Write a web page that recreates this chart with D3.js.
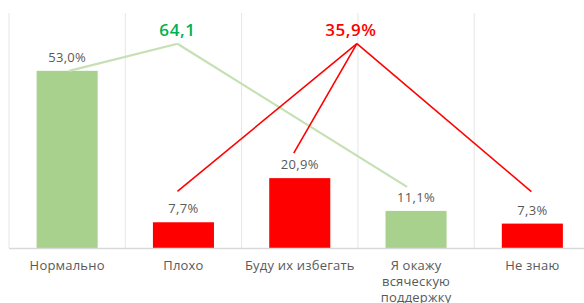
<!DOCTYPE html>
<html>
<head>
<meta charset="utf-8">
<script src="https://cdn.jsdelivr.net/npm/d3@7"></script>
<style>
  body { margin: 0; background: #fff; }
  svg { display: block; font-family: "Open Sans", "DejaVu Sans", sans-serif; }
</style>
</head>
<body>
<svg id="chart" width="584" height="303"></svg>
<script>
(function() {

  'use strict';

  // data
  var categories = ['Нормально', 'Плохо', 'Буду их избегать', 'Я окажу всяческую поддержку', 'Не знаю'];
  var values = [53.0, 7.7, 20.9, 11.1, 7.3];
  var groups = ['positive', 'negative', 'negative', 'positive', 'negative'];
  var sumLabels = { positive: '64,1', negative: '35,9%' };

  var colours = { positive: '#a9d18e', negative: '#ff0000' };
  var lineColours = { positive: '#c5e0b4', negative: '#ff0000' };
  var sumColours = { positive: '#00b050', negative: '#ff0000' };

  var svg = d3.select('#chart');
  var left = 9, baseline = 248, top = 14;

  var x = d3.scaleBand()
    .domain(categories)
    .range([left, left + 116.3 * categories.length])
    .paddingInner(0)
    .paddingOuter(0);

  var y = d3.scaleLinear().domain([0, 70]).range([baseline, top]);

  var fmt = function(v) { return v.toFixed(1).replace('.', ',') + '%'; };

  // vertical gridlines at category boundaries
  var bounds = categories.map(function(c) { return x(c); });
  bounds.push(x(categories[categories.length - 1]) + x.bandwidth());
  svg.append('g').selectAll('line')
    .data(bounds)
    .enter().append('line')
    .attr('x1', function(d) { return d; })
    .attr('x2', function(d) { return d; })
    .attr('y1', y(70) - 1)
    .attr('y2', baseline)
    .attr('stroke', '#e6e6e6')
    .attr('stroke-width', 1);

  // bars
  var barW = x.bandwidth() * 0.525;
  svg.append('g').selectAll('rect')
    .data(values)
    .enter().append('rect')
    .attr('x', function(d, i) { return x(categories[i]) + (x.bandwidth() - barW) / 2; })
    .attr('y', function(d) { return y(d); })
    .attr('width', barW)
    .attr('height', function(d) { return baseline - y(d); })
    .attr('fill', function(d, i) { return colours[groups[i]]; });

  // baseline
  svg.append('line')
    .attr('x1', left).attr('x2', 584)
    .attr('y1', baseline + 0.5).attr('y2', baseline + 0.5)
    .attr('stroke', '#d9d9d9')
    .attr('stroke-width', 1.5);

  // bar value labels
  svg.append('g').selectAll('text')
    .data(values)
    .enter().append('text')
    .attr('x', function(d, i) { return x(categories[i]) + x.bandwidth() / 2; })
    .attr('y', function(d) { return y(d) - 9; })
    .attr('text-anchor', 'middle')
    .attr('font-size', 13)
    .attr('letter-spacing', 0.3)
    .attr('fill', '#595959')
    .text(fmt);

  // category labels (wrapped)
  var wrap = function(s) {
    if (s.length < 18) return [s];
    var w = s.split(' ');
    return [w.slice(0, 2).join(' '), w[2], w[3]];
  };
  svg.append('g').selectAll('text')
    .data(categories)
    .enter().append('text')
    .attr('x', function(d) { return x(d) + x.bandwidth() / 2; })
    .attr('y', 270)
    .attr('text-anchor', 'middle')
    .attr('font-size', 13)
    .attr('letter-spacing', 0.2)
    .attr('fill', '#595959')
    .each(function(d) {
      var t = d3.select(this);
      wrap(d).forEach(function(line, k) {
        t.append('tspan')
          .attr('x', x(d) + x.bandwidth() / 2)
          .attr('dy', k === 0 ? 0 : 16)
          .text(line);
      });
    });

  // summary connectors
  var peakY = y(64.1) + 10;
  var peaks = {
    positive: [x(categories[1]) + x.bandwidth() / 2 - 6, peakY],
    negative: [x(categories[3]) - 1, peakY]
  };
  var offsets = [0, 31, 25, 24, 32];
  var shifts = [2, -6, -6, -9, -1];

  Object.keys(peaks).forEach(function(g) {
    var p = peaks[g];
    values.forEach(function(v, i) {
      if (groups[i] !== g) return;
      var ex = x(categories[i]) + x.bandwidth() / 2 + shifts[i];
      var ey = y(v) - offsets[i];
      svg.append('line')
        .attr('x1', p[0]).attr('y1', p[1])
        .attr('x2', ex).attr('y2', ey)
        .attr('stroke', lineColours[g])
        .attr('stroke-width', g === 'positive' ? 2.2 : 1.6);
    });
    svg.append('text')
      .attr('x', g === 'negative' ? p[0] - 6 : p[0])
      .attr('y', p[1] - 8)
      .attr('text-anchor', 'middle')
      .attr('font-size', 17)
      .attr('letter-spacing', 0.6)
      .attr('font-weight', 600)
      .attr('fill', sumColours[g])
      .text(sumLabels[g]);
  });

})();
</script>
</body>
</html>
